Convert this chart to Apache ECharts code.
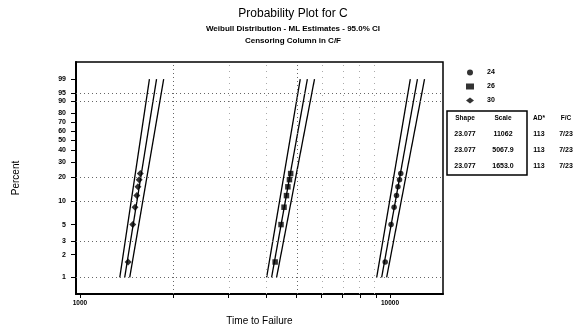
<!DOCTYPE html>
<html><head><meta charset="utf-8">
<script src="https://cdn.jsdelivr.net/npm/echarts@6/dist/echarts.min.js"></script>
<style>html,body{margin:0;padding:0;background:#fff}#c{width:584px;height:331px}</style>
</head><body><div id="c"></div>
<script>
// ---- data ----
const percentTicks = [1, 2, 3, 5, 10, 20, 30, 40, 50, 60, 70, 80, 90, 95, 99];
const percentGrid = [1, 3, 10, 20, 90, 95];
const timeLabelTicks = [1000, 10000];
const timeTicks = [1000, 2000, 3000, 4000, 5000, 6000, 7000, 8000, 9000, 10000];
const timeGridMajor = [2000, 5000];
const timeGridMinor = [3000, 4000, 6000, 7000, 8000, 9000];

const groups = ['24', '26', '30'];
const groupSymbols = ['circle', 'rect', 'diamond'];
const plotPercents = [1.6, 5.0, 8.4, 11.8, 15.2, 18.6, 22.0];
const times24 = [9653, 10083, 10313, 10499, 10612, 10736, 10834];
const times26 = [4262, 4452, 4553, 4636, 4685, 4740, 4783];
const times30 = [1430, 1480, 1505, 1525, 1538, 1552, 1565];

const linePercents = [1, 99];
const fit24 = [9403, 12264], lower24 = [9062, 11632], upper24 = [9757, 12929];
const fit26 = [4151, 5414], lower26 = [4001, 5136], upper26 = [4308, 5709];
const fit30 = [1394, 1766], lower30 = [1344, 1675], upper30 = [1447, 1862];

const tableHeader = ['Shape', 'Scale', 'AD*', 'F/C'];
const shapes = ['23.077', '23.077', '23.077'];
const scales = ['11062', '5067.9', '1653.0'];
const adStats = ['113', '113', '113'];
const failCens = ['7/23', '7/23', '7/23'];

// ---- scale transforms (Weibull probability paper, log time) ----
const W = p => Math.log(-Math.log(1 - p / 100));
const Winv = w => 100 * (1 - Math.exp(-Math.exp(w)));
const L = t => Math.log10(t);

const FONT = '"Liberation Sans", Arial, sans-serif';
const chart = echarts.init(document.getElementById('c'), null, {renderer: 'canvas'});

const pts = (times) => times.map((t, i) => [L(t), W(plotPercents[i])]);
const seg = (arr) => arr.map((t, i) => [L(t), W(linePercents[i])]);

const lineSeries = (data) => ({
  type: 'line', data: seg(data), symbol: 'none', silent: true,
  lineStyle: {color: '#000', width: 1.3}, z: 3
});

const allTimes = [times24, times26, times30];
const fits = [[fit24, lower24, upper24], [fit26, lower26, upper26], [fit30, lower30, upper30]];

const series = [];
fits.forEach(f => f.forEach(d => series.push(lineSeries(d))));
groups.forEach((g, i) => series.push({
  name: g, type: 'scatter', data: pts(allTimes[i]), symbol: groupSymbols[i],
  symbolSize: groupSymbols[i] === 'diamond' ? 7 : 5.5,
  itemStyle: {color: '#000'}, z: 5
}));
// grid lines via markLine
series.push({
  type: 'line', data: [], silent: true,
  markLine: {
    silent: true, symbol: 'none', label: {show: false}, animation: false,
    lineStyle: {color: '#666', type: [1, 3], width: 1},
    data: percentGrid.map(p => ({yAxis: W(p)})).concat(timeGridMajor.map(t => ({xAxis: L(t)})))
  }
});
series.push({
  type: 'line', data: [], silent: true,
  markLine: {
    silent: true, symbol: 'none', label: {show: false}, animation: false,
    lineStyle: {color: '#aaa', type: [1, 5], width: 1},
    data: timeGridMinor.map(t => ({xAxis: L(t)}))
  }
});

const rowsY = [134, 150, 166];
const colX = [465, 503, 539, 566];
const graphics = [
  {type: 'rect', shape: {x: 447, y: 111, width: 80, height: 64},
   style: {fill: 'none', stroke: '#000', lineWidth: 1.5}}
];
tableHeader.forEach((h, j) => graphics.push({type: 'text', x: colX[j], y: 118,
  style: {text: h, font: 'bold 6.5px ' + FONT, fill: '#000', textAlign: 'center', textVerticalAlign: 'middle'}}));
[shapes, scales, adStats, failCens].forEach((col, j) => col.forEach((v, i) => graphics.push({
  type: 'text', x: colX[j], y: rowsY[i],
  style: {text: v, font: 'bold 7px ' + FONT, fill: '#000', textAlign: 'center', textVerticalAlign: 'middle'}})));

chart.setOption({
  animation: false,
  title: {
    text: 'Probability Plot for C',
    subtext: 'Weibull Distribution - ML Estimates - 95.0% CI\nCensoring Column in C/F',
    left: 288, top: 3, textAlign: 'center', itemGap: 3,
    textStyle: {fontFamily: FONT, fontSize: 12, fontWeight: 'normal', color: '#000'},
    subtextStyle: {fontFamily: FONT, fontSize: 8, fontWeight: 'bold', color: '#000', lineHeight: 12}
  },
  legend: {
    data: groups, orient: 'vertical', left: 461, top: 64, itemGap: 7,
    itemWidth: 8, itemHeight: 6,
    textStyle: {fontFamily: FONT, fontSize: 7, fontWeight: 'bold', color: '#000', padding: [0, 0, 0, 8]}
  },
  grid: {left: 76, right: 141, top: 62, bottom: 33, show: true, borderColor: '#000', borderWidth: 1.5},
  xAxis: {
    type: 'value', min: L(970.8), max: L(14830),
    name: 'Time to Failure', nameLocation: 'middle', nameGap: 22,
    nameTextStyle: {fontFamily: FONT, fontSize: 10, color: '#000'},
    axisLine: {onZero: false, lineStyle: {color: '#000', width: 2}},
    axisTick: {customValues: timeTicks.map(L), length: 4, lineStyle: {color: '#000'}},
    axisLabel: {customValues: timeLabelTicks.map(L), formatter: v => String(Math.round(Math.pow(10, v))),
      fontFamily: FONT, fontSize: 6.5, fontWeight: 'bold', color: '#000', margin: 6},
    splitLine: {show: false}
  },
  yAxis: {
    type: 'value', min: -5.117, max: 2.057,
    name: 'Percent', nameLocation: 'middle', nameGap: 55, nameRotate: 90,
    nameTextStyle: {fontFamily: FONT, fontSize: 10, color: '#000'},
    axisLine: {onZero: false, lineStyle: {color: '#000', width: 2}},
    axisTick: {customValues: percentTicks.map(W), length: 5, lineStyle: {color: '#000'}},
    axisLabel: {customValues: percentTicks.map(W), formatter: v => String(Math.round(Winv(v))),
      fontFamily: FONT, fontSize: 7, fontWeight: 'bold', color: '#000', margin: 10},
    splitLine: {show: false}
  },
  graphic: graphics,
  series: series
});
</script></body></html>
